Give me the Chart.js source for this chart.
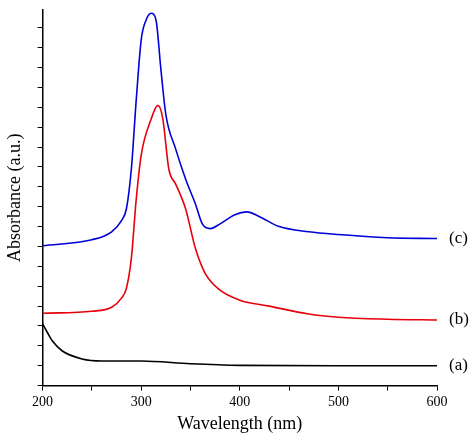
<!DOCTYPE html>
<html><head><meta charset="utf-8">
<script src="https://cdn.jsdelivr.net/npm/chart.js@4"></script>
<style>body{margin:0;background:#fff}#wrap{width:474px;height:439px}</style>
</head><body><div id="wrap"><canvas id="c"></canvas></div>
<script>
const waveA = [200, 205, 210, 220, 240, 260, 300, 350, 400, 500, 600];
const absA = [1.55, 1.33, 1.12, 0.87, 0.67, 0.62, 0.62, 0.55, 0.51, 0.5, 0.5];
const waveB = [200, 250, 270, 280, 285, 290, 295, 300, 310, 317, 322, 328, 335, 345, 355, 365, 380, 400, 430, 470, 500, 550, 600];
const absB = [1.82, 1.87, 1.97, 2.2, 2.45, 3.2, 4.7, 5.8, 6.7, 7.05, 6.7, 5.45, 5.07, 4.45, 3.45, 2.82, 2.4, 2.15, 2.0, 1.8, 1.72, 1.67, 1.65];
const waveC = [200, 250, 270, 280, 285, 290, 295, 300, 305, 310, 315, 320, 325, 335, 345, 355, 362, 370, 380, 395, 407, 420, 440, 470, 500, 550, 600];
const absC = [3.52, 3.67, 3.87, 4.15, 4.45, 5.45, 7.2, 8.7, 9.2, 9.37, 9.2, 7.95, 6.82, 5.95, 5.2, 4.57, 4.07, 3.95, 4.07, 4.3, 4.37, 4.25, 4.0, 3.87, 3.8, 3.72, 3.7];
const curveLabels = ['(a)', '(b)', '(c)'];

const pts = (xs, ys) => xs.map((x, i) => ({x: x, y: ys[i]}));
const font = 'Liberation Serif';

const labelPlugin = {
  id: 'curveLabels',
  afterDatasetsDraw(chart) {
    const ctx = chart.ctx;
    ctx.save();
    ctx.font = '17px "' + font + '"';
    ctx.fillStyle = '#000';
    ctx.textBaseline = 'middle';
    chart.data.datasets.forEach((ds, i) => {
      const last = ds.data[ds.data.length - 1];
      const y = chart.scales.y.getPixelForValue(last.y);
      ctx.fillText(curveLabels[i], chart.chartArea.right + 12, y);
    });
    ctx.restore();
  }
};

new Chart(document.getElementById('c'), {
  type: 'line',
  data: {
    datasets: [
      {data: pts(waveA, absA), borderColor: '#000'},
      {data: pts(waveB, absB), borderColor: '#e8000b'},
      {data: pts(waveC, absC), borderColor: '#0000d8'}
    ]
  },
  options: {
    responsive: true,
    maintainAspectRatio: false,
    animation: false,
    elements: {point: {radius: 0}, line: {borderWidth: 1.6, tension: 0.4, cubicInterpolationMode: 'monotone'}},
    layout: {padding: {top: 10, right: 37, left: 0, bottom: 0}},
    plugins: {legend: {display: false}, tooltip: {enabled: false}},
    scales: {
      x: {
        type: 'linear', min: 200, max: 600,
        ticks: {stepSize: 50, color: '#000', font: {family: font, size: 14},
          callback: v => v % 100 === 0 ? v : ''},
        grid: {drawOnChartArea: false, color: '#000', tickLength: 5},
        border: {color: '#000', width: 1.5},
        title: {display: true, text: 'Wavelength (nm)', color: '#000', font: {family: font, size: 18}, padding: {top: 0}}
      },
      y: {
        min: 0, max: 9.45,
        afterBuildTicks: s => { s.ticks = []; for (let v = 0; v <= 9.45; v += 0.5) s.ticks.push({value: v}); },
        ticks: {display: true, color: 'rgba(0,0,0,0)', font: {size: 1}, callback: () => ''},
        grid: {drawOnChartArea: false, color: '#000', tickLength: 5},
        border: {color: '#000', width: 1.5},
        title: {display: true, text: 'Absorbance (a.u.)', color: '#000', font: {family: font, size: 18}, padding: {bottom: 6}}
      }
    }
  },
  plugins: [labelPlugin]
});
</script></body></html>
